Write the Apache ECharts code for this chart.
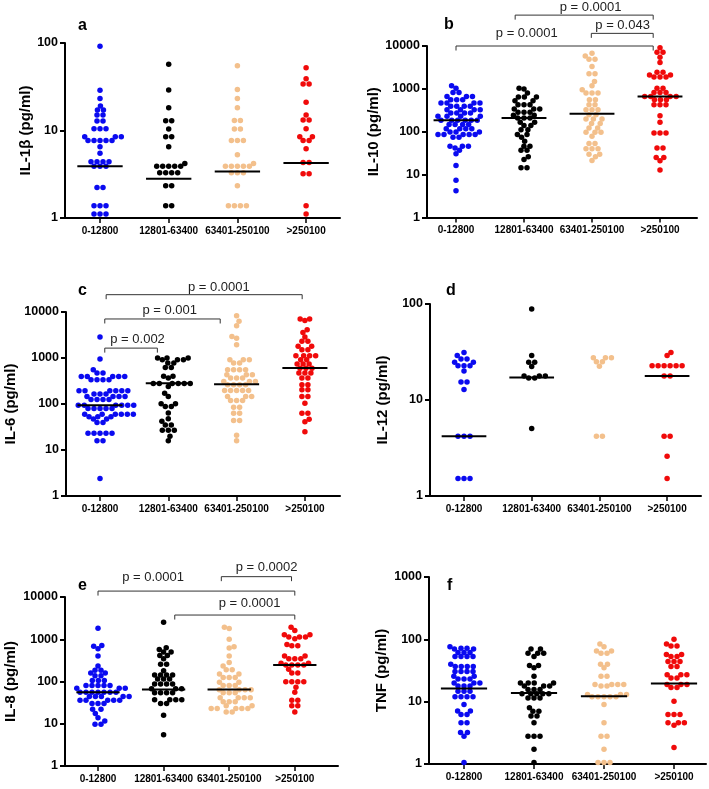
<!DOCTYPE html>
<html><head><meta charset="utf-8">
<script src="https://cdn.jsdelivr.net/npm/echarts@6/dist/echarts.min.js"></script>
<style>html,body{margin:0;padding:0;background:#fff}#c{width:709px;height:789px}</style>
</head><body><div id="c"></div>
<script>
const categories = ['0-12800', '12801-63400', '63401-250100', '>250100'];
const groupColors = ['#0a0af0', '#000000', '#f3c08c', '#f00a0a'];

// Panel a: IL-1β
const a0 = [91.6, 28.9, 23.2, 19.0, 17.1, 17.1, 15.0, 15.0, 12.8, 12.8, 10.5, 10.5, 10.5, 8.5, 8.5, 8.5, 7.7, 7.7, 7.7, 7.7, 7.7, 6.5, 5.5, 4.4, 4.4, 4.4, 4.4, 3.9, 3.9, 3.9, 2.23, 2.23, 1.38, 1.38, 1.38, 1.11, 1.11, 1.11];
const a1 = [57, 29, 18.2, 12.9, 12.9, 10.4, 8.5, 8.5, 6.5, 4.2, 3.9, 3.9, 3.9, 3.9, 3.9, 3.3, 3.3, 3.3, 3.3, 2.33, 2.33, 1.38, 1.38];
const a2 = [55, 29.4, 23.2, 18.2, 13, 13, 10.4, 10.4, 7.7, 7.7, 7.7, 5.3, 4.2, 3.9, 3.9, 3.9, 3.9, 3.9, 3.3, 3.3, 3.3, 2.33, 1.38, 1.38, 1.38, 1.38];
const a3 = [52, 39, 34, 34, 21, 15, 13.2, 13.2, 10.5, 8.5, 8.5, 7.7, 7.7, 6.2, 4.3, 4.3, 3.2, 3.2, 1.38, 1.11];
const medA = [3.9, 2.81, 3.4, 4.25];

// Panel b: IL-10
const b0 = [1180, 1040, 826, 826, 667, 667, 667, 558, 558, 558, 467, 467, 467, 467, 391, 391, 391, 391, 327, 327, 327, 327, 273, 273, 273, 273, 229, 229, 229, 229, 185, 185, 185, 185, 185, 185, 147, 147, 147, 147, 118, 118, 118, 118, 99, 99, 99, 86, 86, 86, 86, 86, 74, 74, 46, 46, 46, 42, 37, 30.5, 16.4, 7.4, 4.2];
const b1 = [1040, 1000, 797, 644, 644, 644, 529, 529, 427, 427, 427, 339, 339, 339, 284, 284, 284, 242, 242, 209, 209, 209, 166, 166, 139, 139, 112, 112, 86, 86, 74, 60, 46, 46, 37, 37, 26, 22.6, 14.5, 14.5];
const b2 = [6760, 5860, 4910, 4910, 3310, 2240, 2240, 1490, 1180, 950, 797, 797, 797, 558, 558, 427, 427, 327, 327, 327, 250, 250, 199, 199, 199, 155, 155, 123, 123, 98, 98, 98, 79, 53, 53, 40, 40, 40, 30, 30, 26, 21.4];
const b3 = [9150, 7130, 7130, 5460, 4100, 2450, 2450, 2120, 2120, 1880, 1880, 1880, 1040, 1040, 826, 826, 826, 667, 667, 667, 667, 558, 558, 558, 427, 427, 427, 237, 166, 94, 94, 94, 42, 42, 25, 25, 21, 12.8];
const medB = [185, 209, 264, 667];

// Panel c: IL-6
const c0 = [2860, 946, 555, 470, 470, 397, 397, 397, 397, 397, 336, 336, 336, 336, 194, 194, 194, 194, 194, 194, 165, 165, 165, 145, 145, 145, 145, 125, 125, 125, 125, 94.5, 94.5, 94.5, 94.5, 94.5, 94.5, 80, 80, 80, 80, 80, 60, 60, 60, 60, 60, 60, 53, 53, 53, 47, 47, 39.5, 39.5, 23, 23, 23, 23, 23, 15.8, 15.8, 2.4];
const c1 = [1000, 1000, 1000, 920, 920, 920, 775, 775, 624, 624, 400, 400, 366, 280, 280, 280, 280, 280, 280, 240, 172, 145, 101, 101, 88, 88, 64, 47.5, 42, 35, 35, 27, 27, 27, 20, 15.8];
const c2 = [8320, 6270, 5040, 2950, 2700, 1940, 916, 916, 916, 775, 775, 555, 555, 555, 555, 432, 432, 432, 366, 366, 366, 309, 309, 309, 263, 263, 263, 263, 197, 197, 197, 197, 197, 145, 145, 145, 119, 119, 119, 85, 85, 63, 63, 43.7, 43.7, 21, 15.8];
const c3 = [7050, 7050, 6500, 4120, 3600, 2860, 2300, 2300, 1790, 1790, 1520, 1520, 1120, 1120, 1120, 1120, 916, 916, 736, 736, 736, 600, 600, 600, 470, 470, 470, 366, 366, 263, 263, 204, 204, 145, 145, 104, 63, 63, 46.8, 41, 25];
const medC = [94.5, 284, 270, 603];

// Panel d: IL-12
const d0 = [31.3, 29, 26.8, 26.8, 24.8, 24.8, 22.7, 22.7, 22.7, 20, 15.4, 15.4, 12.9, 4.2, 4.2, 4.2, 1.52, 1.52, 1.52];
const d1 = [88.6, 29, 24.8, 24.8, 22.3, 17.8, 17.8, 17.8, 17, 17, 5.06];
const d2 = [27.5, 27.5, 27.5, 25, 25, 22.5, 4.2, 4.2];
const d3 = [31.3, 29, 22.7, 22.7, 22.7, 22.7, 22.7, 22.7, 17.8, 17.8, 4.2, 4.2, 2.6, 1.52];
const medD = [4.2, 17.2, null, 17.8];

// Panel e: IL-8
const e0 = [1830, 708, 680, 593, 400, 234, 185, 185, 158, 158, 137, 137, 105, 105, 105, 80, 80, 80, 80, 80, 69, 69, 69, 56, 56, 56, 56, 56, 56, 56, 44, 44, 44, 44, 44, 36, 36, 36, 36, 36, 30, 30, 30, 22, 22, 17.5, 13.9, 11.6, 9.7, 9.7];
const e1 = [2520, 625, 570, 496, 496, 414, 414, 346, 256, 256, 179, 142, 142, 142, 142, 114, 114, 114, 87, 87, 87, 87, 67, 67, 67, 54, 54, 54, 54, 37, 37, 37, 37, 30, 30, 16, 5.5];
const e2 = [1930, 1800, 1000, 660, 620, 400, 280, 234, 189, 189, 150, 150, 125, 125, 125, 96, 96, 80, 80, 80, 64, 64, 64, 64, 54, 54, 54, 41, 41, 41, 41, 33, 33, 33, 26.5, 26.5, 22.9, 22.9, 22.9, 22.9, 22.9, 19, 19];
const e3 = [1930, 1610, 1280, 1280, 1130, 1130, 1130, 1030, 750, 700, 700, 400, 400, 347, 347, 347, 270, 270, 247, 247, 247, 247, 195, 158, 158, 99, 99, 99, 99, 73, 56, 36, 36, 26.5, 26.5, 19];
const medE = [56, 64.5, 64.5, 247];

// Panel f: TNF
const f0 = [76, 72, 72, 70, 70, 61.5, 61.5, 61.5, 53, 53, 53, 53, 40, 36.8, 36.8, 36.8, 36.8, 30.6, 30.6, 30.6, 30.6, 25.5, 25.5, 23, 23, 23, 20, 20, 20, 17.8, 17.8, 17.8, 14.7, 14.7, 14.7, 12, 12, 12, 12, 9, 7.1, 7.1, 6.2, 6.2, 4.6, 4.6, 3.2, 3.2, 2.8, 1.06];
const f1 = [70, 70, 60, 60, 60, 53, 38, 38, 35, 25.5, 20, 20, 20, 20, 17.8, 17.8, 17.8, 15.7, 15.7, 15.7, 13.4, 13.4, 13.4, 13.4, 13.4, 11.5, 11.5, 11.5, 8, 7, 7, 5.9, 5.9, 4.6, 2.8, 2.8, 2.8, 1.73, 1.06];
const f2 = [84.5, 76, 65, 65, 60, 60, 40, 40, 35, 25.5, 25.5, 18.8, 18.8, 18.8, 18.8, 17.8, 17.8, 13, 13, 13, 12, 12, 12, 12, 12, 9, 4.6, 2.8, 2.8, 1.73, 1.06, 1.06, 1.06];
const f3 = [100, 84.5, 78, 78, 57, 57, 53, 53, 44, 44, 44, 36.8, 36.8, 27, 27, 27, 24, 24, 18.8, 18.8, 18.8, 16.8, 16.8, 10.2, 6.2, 6.2, 6.2, 4.6, 4.6, 4.6, 4.2, 1.84];
const medF = [16.2, 13.8, 12.2, 19.5];

// Significance brackets: from/to in category units, level in data units
const bracketsB = [
  { from: 0, to: 2.9, level: 10000, textAt: 1.04, lift: 13, label: 'p = 0.0001' },
  { from: 0.87, to: 2.9, level: 52500, textAt: 1.98, lift: 8, label: 'p = 0.0001' },
  { from: 1.99, to: 2.9, level: 19700, textAt: 2.45, lift: 8, label: 'p = 0.043' }
];
const bracketsC = [
  { from: 0.07, to: 0.84, level: 1640, textAt: 0.55, lift: 9, label: 'p = 0.002' },
  { from: 0.07, to: 1.76, level: 7050, textAt: 1.02, lift: 9, label: 'p = 0.001' },
  { from: 0.09, to: 2.96, level: 23800, textAt: 1.74, lift: 7, label: 'p = 0.0001' }
];
const bracketsE = [
  { from: 0, to: 3.0, level: 13800, textAt: 0.84, lift: 14, label: 'p = 0.0001' },
  { from: 1.88, to: 2.95, level: 30300, textAt: 2.57, lift: 9, label: 'p = 0.0002' },
  { from: 1.17, to: 3.0, level: 3740, textAt: 2.31, lift: 12, label: 'p = 0.0001' }
];

const FONT = '"Liberation Sans", Arial, Helvetica, sans-serif';

const panels = [
  { letter: 'a', groups: [a0, a1, a2, a3], med: medA, br: [], ymax: 100, name: 'IL-1β (pg/ml)', left: 65, cat0: 100, sp: 68.7, right: 340, top: 43, bottom: 218, gap: 30, lx: 73, ly: 13 },
  { letter: 'b', groups: [b0, b1, b2, b3], med: medB, br: bracketsB, ymax: 10000, name: 'IL-10 (pg/ml)', left: 427, cat0: 456, sp: 68, right: 697, top: 46, bottom: 217.5, gap: 42, lx: 439, ly: 12 },
  { letter: 'c', groups: [c0, c1, c2, c3], med: medC, br: bracketsC, ymax: 10000, name: 'IL-6 (pg/ml)', left: 66, cat0: 100, sp: 68.3, right: 340, top: 312, bottom: 496, gap: 48, lx: 73, ly: 278 },
  { letter: 'd', groups: [d0, d1, d2, d3], med: medD, br: [], ymax: 100, name: 'IL-12 (pg/ml)', left: 430, cat0: 464, sp: 67.7, right: 701, top: 304, bottom: 496, gap: 40, lx: 441, ly: 278 },
  { letter: 'e', groups: [e0, e1, e2, e3], med: medE, br: bracketsE, ymax: 10000, name: 'IL-8 (pg/ml)', left: 65, cat0: 98, sp: 65.6, right: 338, top: 597, bottom: 766, gap: 47, lx: 73, ly: 573 },
  { letter: 'f', groups: [f0, f1, f2, f3], med: medF, br: [], ymax: 1000, name: 'TNF (pg/ml)', left: 429, cat0: 464, sp: 70, right: 706, top: 577, bottom: 764, gap: 40, lx: 442, ly: 573 }
];

const DOT = 5.0;   // collision distance in px
const ROW = 6.0;   // spacing of equal values within a row
const SYM = 5.5;   // symbol size

function beeswarm(values, pxPerDecade, D) {
  const idx = values.map((v, i) => i).sort((p, q) => values[p] - values[q]);
  const placed = [];
  const out = new Array(values.length);
  let side = 1;
  let i = 0;
  while (i < idx.length) {
    let j = i;
    while (j < idx.length && values[idx[j]] === values[idx[i]]) j++;
    const n = j - i;
    for (let k = 0; k < n; k++) {
      const y = Math.log10(values[idx[i + k]]) * pxPerDecade;
      const t = (k - (n - 1) / 2) * ROW;
      const iv = [];
      for (const p of placed) {
        const dy = Math.abs(p.y - y);
        const DD = dy < 0.01 ? ROW : D;
        if (dy < DD) { const w = Math.sqrt(DD * DD - dy * dy); iv.push([p.x - w, p.x + w]); }
      }
      const cands = [t];
      iv.forEach(r => cands.push(r[0], r[1]));
      let best = t, bd = Infinity;
      for (const c of cands) {
        if (iv.some(r => c > r[0] + 1e-6 && c < r[1] - 1e-6)) continue;
        const d = Math.abs(c - t) + Math.abs(c) * 1e-3 - (Math.sign(c - t) === side ? 1e-4 : 0);
        if (d < bd) { bd = d; best = c; }
      }
      if (Math.abs(best - t) > 1e-6) side = -Math.sign(best - t);
      placed.push({ x: best, y });
      out[idx[i + k]] = best;
    }
    i = j;
  }
  return out;
}

const grid = [], xAxis = [], yAxis = [], series = [], title = [];
panels.forEach((P, pi) => {
  const h = P.bottom - P.top;
  const decades = Math.log10(P.ymax);
  const ppd = h / decades;
  grid.push({ left: P.left, top: P.top, width: P.right - P.left, height: h, containLabel: false });
  xAxis.push({
    type: 'value', gridIndex: pi,
    min: -(P.cat0 - P.left) / P.sp, max: (P.right - P.cat0) / P.sp,
    axisLine: { show: true, onZero: false, lineStyle: { color: '#000', width: 2 } },
    axisTick: { show: true, customValues: [0, 1, 2, 3], length: 5, lineStyle: { color: '#000', width: 1.5 } },
    axisLabel: { show: true, customValues: [0, 1, 2, 3], formatter: v => categories[Math.round(v)], margin: 8, color: '#000', fontWeight: 'bold', fontSize: 10, fontFamily: FONT },
    splitLine: { show: false }
  });
  yAxis.push({
    type: 'log', logBase: 10, gridIndex: pi, min: 1, max: P.ymax, position: 'left',
    name: P.name, nameLocation: 'middle', nameGap: P.gap, nameRotate: 90,
    nameTextStyle: { fontSize: 15, fontWeight: 'bold', color: '#000', fontFamily: FONT },
    axisLine: { show: true, onZero: false, lineStyle: { color: '#000', width: 2 } },
    axisTick: { show: true, length: 5, lineStyle: { color: '#000', width: 2 } },
    minorTick: { show: false },
    axisLabel: { formatter: v => String(Math.round(v)), margin: 7, color: '#000', fontWeight: 'bold', fontSize: 12.5, fontFamily: FONT },
    splitLine: { show: false }
  });
  title.push({ text: P.letter, left: P.lx, top: P.ly, textStyle: { fontSize: 16, fontWeight: 'bold', color: '#000', fontFamily: FONT } });

  P.groups.forEach((vals, g) => {
    const off = beeswarm(vals, ppd, DOT);
    series.push({
      type: 'scatter', xAxisIndex: pi, yAxisIndex: pi, symbol: 'circle', symbolSize: SYM, clip: false,
      itemStyle: { color: groupColors[g], opacity: 1 },
      data: vals.map((v, i) => [g + off[i] / P.sp, v]),
      z: 3, silent: true
    });
  });

  series.push({
    type: 'custom', xAxisIndex: pi, yAxisIndex: pi, z: 5, silent: true,
    data: P.med.map((m, i) => m == null ? null : [i, m]).filter(Boolean),
    renderItem: (params, api) => {
      const p1 = api.coord([api.value(0) - 0.33, api.value(1)]);
      const p2 = api.coord([api.value(0) + 0.33, api.value(1)]);
      return { type: 'line', shape: { x1: p1[0], y1: p1[1], x2: p2[0], y2: p2[1] }, style: { stroke: '#000', lineWidth: 2 } };
    }
  });

  if (P.br.length) {
    const br = P.br;
    series.push({
      type: 'custom', xAxisIndex: pi, yAxisIndex: pi, z: 6, silent: true, clip: false,
      data: br.map(b => [b.from, b.level, b.to, b.textAt, b.lift]),
      renderItem: (params, api) => {
        const y = api.value(1);
        const p1 = api.coord([api.value(0), y]);
        const p2 = api.coord([api.value(2), y]);
        const pt = api.coord([api.value(3), y]);
        return {
          type: 'group', children: [
            { type: 'polyline', shape: { points: [[p1[0], p1[1] + 4.5], [p1[0], p1[1]], [p2[0], p2[1]], [p2[0], p2[1] + 4.5]] }, style: { stroke: '#333', lineWidth: 1, fill: null } },
            { type: 'text', style: { text: br[params.dataIndex].label, x: pt[0], y: pt[1] - api.value(4), align: 'center', verticalAlign: 'middle', font: '13px ' + FONT, fill: '#222' } }
          ]
        };
      }
    });
  }
});

const chart = echarts.init(document.getElementById('c'), null, { renderer: 'canvas' });
chart.setOption({ animation: false, backgroundColor: '#fff', title, grid, xAxis, yAxis, series });
</script>
</body></html>
